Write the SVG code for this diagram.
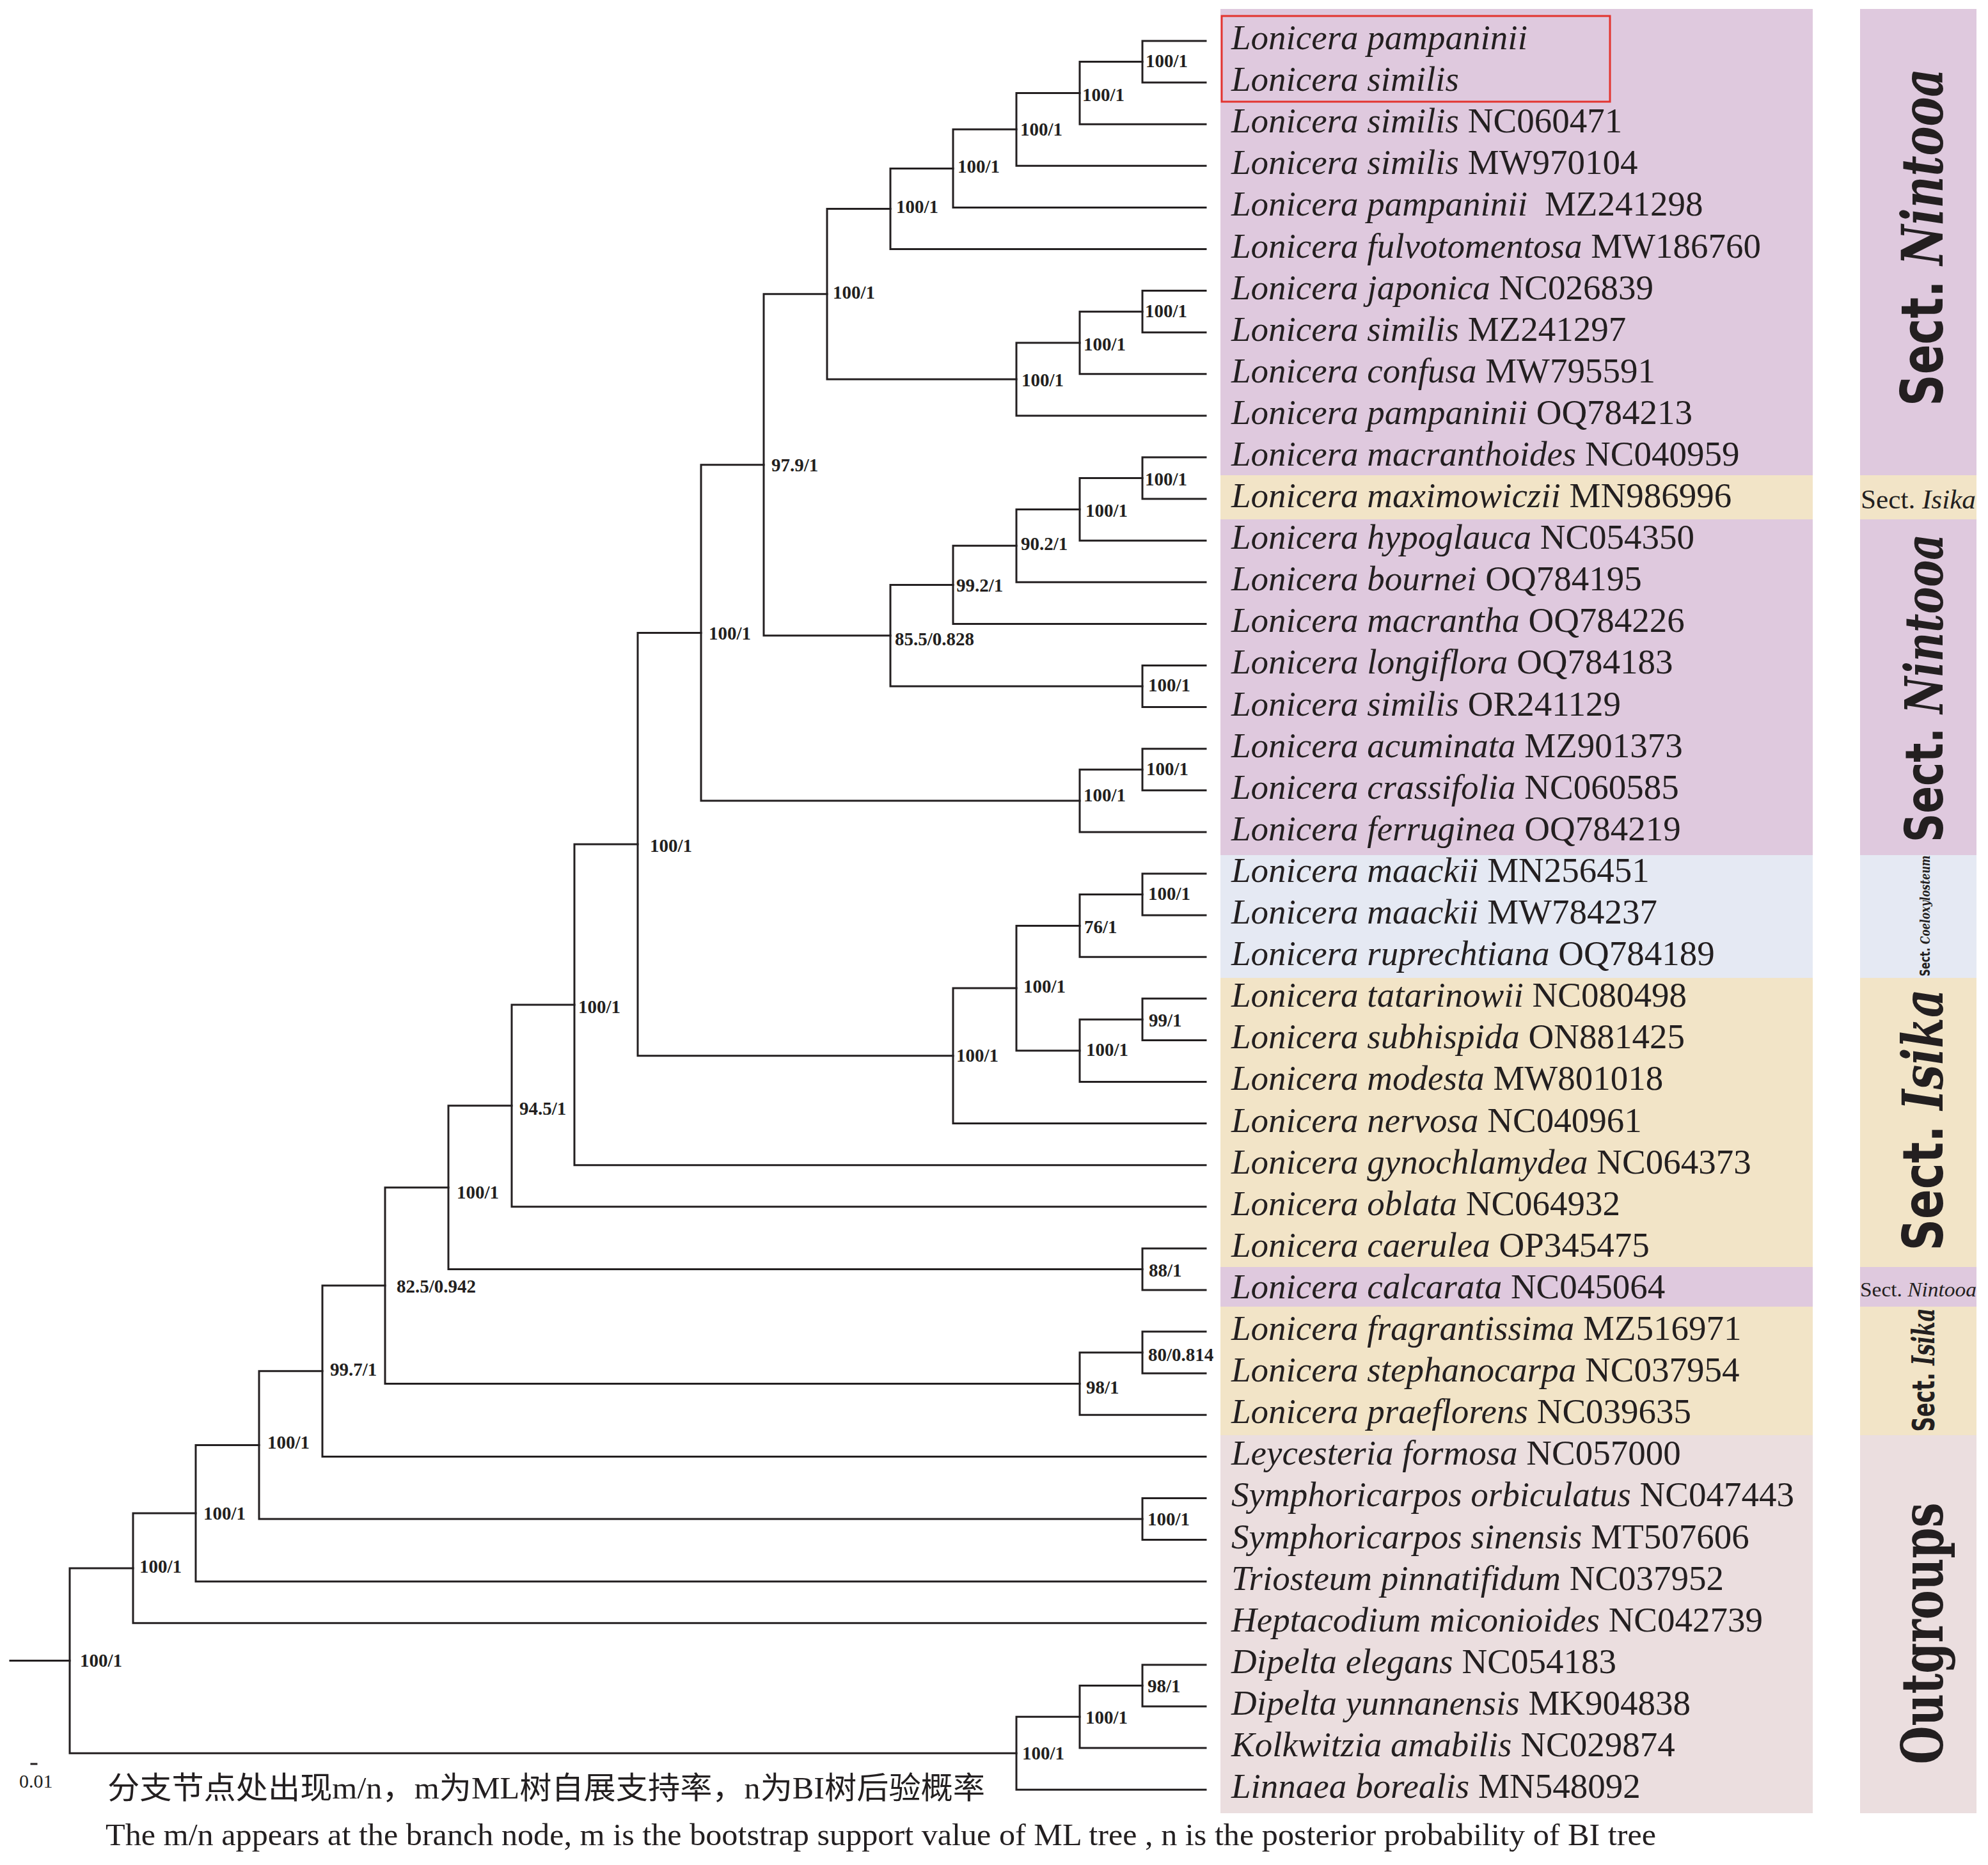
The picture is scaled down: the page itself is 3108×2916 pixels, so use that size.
<svg xmlns="http://www.w3.org/2000/svg" width="3108" height="2916" viewBox="0 0 3108 2916">
<style>
.br{fill:none;stroke:#231f20;stroke-width:3;stroke-linecap:square}
.sup{font-family:"Liberation Serif",serif;font-weight:bold;font-size:29px;fill:#231f20}
.tx{font-family:"Liberation Serif",serif;font-size:55px;fill:#231f20}
.i{font-style:italic}
.sec{font-family:"Liberation Serif",serif;fill:#231f20}
.big{font-weight:bold;fill:#231f20}
.sans{font-family:"DejaVu Sans",sans-serif}
.serif{font-family:"DejaVu Serif",serif}
</style>
<rect width="3108" height="2916" fill="#ffffff"/>
<g id="bands">
<rect x="1908" y="14" width="926" height="729" fill="#dfc9de"/>
<rect x="1908" y="743" width="926" height="69" fill="#f2e4c7"/>
<rect x="1908" y="812" width="926" height="525" fill="#dfc9de"/>
<rect x="1908" y="1337" width="926" height="192" fill="#e5e9f3"/>
<rect x="1908" y="1529" width="926" height="452" fill="#f2e4c7"/>
<rect x="1908" y="1981" width="926" height="62" fill="#dfc9de"/>
<rect x="1908" y="2043" width="926" height="201" fill="#f2e4c7"/>
<rect x="1908" y="2244" width="926" height="591" fill="#ebdedf"/>
<rect x="2908" y="14" width="182" height="729" fill="#dfc9de"/>
<rect x="2908" y="743" width="182" height="69" fill="#f2e4c7"/>
<rect x="2908" y="812" width="182" height="525" fill="#dfc9de"/>
<rect x="2908" y="1337" width="182" height="192" fill="#e5e9f3"/>
<rect x="2908" y="1529" width="182" height="452" fill="#f2e4c7"/>
<rect x="2908" y="1981" width="182" height="62" fill="#dfc9de"/>
<rect x="2908" y="2043" width="182" height="201" fill="#f2e4c7"/>
<rect x="2908" y="2244" width="182" height="591" fill="#ebdedf"/>
</g>
<g id="highlight">
<rect x="1910" y="25" width="607" height="134" fill="none" stroke="#e3342f" stroke-width="3"/>
</g>
<g id="connectors">
<path class="br" d="M1885,64 H1786 V129.1 H1885"/>
<path class="br" d="M1786,96.5 H1688 V194.2 H1885"/>
<path class="br" d="M1688,145.4 H1589 V259.3 H1885"/>
<path class="br" d="M1589,202.3 H1490 V324.4 H1885"/>
<path class="br" d="M1490,263.4 H1392 V389.5 H1885"/>
<path class="br" d="M1885,454.6 H1786 V519.7 H1885"/>
<path class="br" d="M1786,487.2 H1688 V584.8 H1885"/>
<path class="br" d="M1688,536 H1589 V649.9 H1885"/>
<path class="br" d="M1392,326.4 H1293 V593 H1589"/>
<path class="br" d="M1885,715 H1786 V780.1 H1885"/>
<path class="br" d="M1786,747.6 H1688 V845.2 H1885"/>
<path class="br" d="M1688,796.4 H1589 V910.3 H1885"/>
<path class="br" d="M1589,853.3 H1490 V975.4 H1885"/>
<path class="br" d="M1885,1040.5 H1786 V1105.6 H1885"/>
<path class="br" d="M1490,914.4 H1392 V1073 H1786"/>
<path class="br" d="M1293,459.7 H1194 V993.7 H1392"/>
<path class="br" d="M1885,1170.7 H1786 V1235.8 H1885"/>
<path class="br" d="M1786,1203.3 H1688 V1300.9 H1885"/>
<path class="br" d="M1194,726.7 H1096 V1252.1 H1688"/>
<path class="br" d="M1885,1366 H1786 V1431.1 H1885"/>
<path class="br" d="M1786,1398.6 H1688 V1496.2 H1885"/>
<path class="br" d="M1885,1561.3 H1786 V1626.4 H1885"/>
<path class="br" d="M1786,1593.9 H1688 V1691.5 H1885"/>
<path class="br" d="M1688,1447.4 H1589 V1642.7 H1688"/>
<path class="br" d="M1589,1545 H1490 V1756.6 H1885"/>
<path class="br" d="M1096,989.4 H997 V1650.8 H1490"/>
<path class="br" d="M997,1320.1 H898 V1821.7 H1885"/>
<path class="br" d="M898,1570.9 H800 V1886.8 H1885"/>
<path class="br" d="M1885,1951.9 H1786 V2017 H1885"/>
<path class="br" d="M800,1728.8 H701 V1984.5 H1786"/>
<path class="br" d="M1885,2082.1 H1786 V2147.2 H1885"/>
<path class="br" d="M1786,2114.7 H1688 V2212.3 H1885"/>
<path class="br" d="M701,1856.7 H602 V2163.5 H1688"/>
<path class="br" d="M602,2010.1 H504 V2277.4 H1885"/>
<path class="br" d="M1885,2342.5 H1786 V2407.6 H1885"/>
<path class="br" d="M504,2143.7 H405 V2375 H1786"/>
<path class="br" d="M405,2259.4 H306 V2472.7 H1885"/>
<path class="br" d="M306,2366 H208 V2537.8 H1885"/>
<path class="br" d="M1885,2602.9 H1786 V2668 H1885"/>
<path class="br" d="M1786,2635.5 H1688 V2733.1 H1885"/>
<path class="br" d="M1688,2684.3 H1589 V2798.2 H1885"/>
<path class="br" d="M208,2451.9 H109 V2741.2 H1589"/>
<path class="br" d="M16,2596.6 H109"/>
<path class="br" d="M49,2758 H57"/>
</g>
<g id="support-labels">
<g id="n-A"><text class="sup" x="1791" y="105">100/1</text></g>
<g id="n-B"><text class="sup" x="1692" y="158">100/1</text></g>
<g id="n-C"><text class="sup" x="1595" y="212">100/1</text></g>
<g id="n-D"><text class="sup" x="1497" y="270">100/1</text></g>
<g id="n-E"><text class="sup" x="1401" y="333">100/1</text></g>
<g id="n-F"><text class="sup" x="1302" y="467">100/1</text></g>
<g id="n-G"><text class="sup" x="1790" y="496">100/1</text></g>
<g id="n-H"><text class="sup" x="1694" y="548">100/1</text></g>
<g id="n-I"><text class="sup" x="1597" y="604">100/1</text></g>
<g id="n-K"><text class="sup" x="1206" y="737">97.9/1</text></g>
<g id="n-M"><text class="sup" x="1790" y="759">100/1</text></g>
<g id="n-N"><text class="sup" x="1697" y="808">100/1</text></g>
<g id="n-O"><text class="sup" x="1596" y="860">90.2/1</text></g>
<g id="n-P"><text class="sup" x="1495" y="925">99.2/1</text></g>
<g id="n-L"><text class="sup" x="1399" y="1009">85.5/0.828</text></g>
<g id="n-Q"><text class="sup" x="1795" y="1081">100/1</text></g>
<g id="n-T"><text class="sup" x="1108" y="1000">100/1</text></g>
<g id="n-R"><text class="sup" x="1792" y="1212">100/1</text></g>
<g id="n-S"><text class="sup" x="1694" y="1253">100/1</text></g>
<g id="n-U"><text class="sup" x="1795" y="1407">100/1</text></g>
<g id="n-V"><text class="sup" x="1695" y="1459">76/1</text></g>
<g id="n-W"><text class="sup" x="1796" y="1605">99/1</text></g>
<g id="n-X"><text class="sup" x="1698" y="1651">100/1</text></g>
<g id="n-Y"><text class="sup" x="1600" y="1552">100/1</text></g>
<g id="n-Z"><text class="sup" x="1495" y="1660">100/1</text></g>
<g id="n-AA"><text class="sup" x="1016" y="1332">100/1</text></g>
<g id="n-AB"><text class="sup" x="904" y="1584">100/1</text></g>
<g id="n-AC"><text class="sup" x="812" y="1743">94.5/1</text></g>
<g id="n-AD"><text class="sup" x="1796" y="1996">88/1</text></g>
<g id="n-AE"><text class="sup" x="714" y="1874">100/1</text></g>
<g id="n-AF"><text class="sup" x="1795" y="2128">80/0.814</text></g>
<g id="n-AG"><text class="sup" x="1698" y="2179">98/1</text></g>
<g id="n-AH"><text class="sup" x="620" y="2021">82.5/0.942</text></g>
<g id="n-AI"><text class="sup" x="516" y="2151">99.7/1</text></g>
<g id="n-AJ"><text class="sup" x="1794" y="2385">100/1</text></g>
<g id="n-AK"><text class="sup" x="418" y="2265">100/1</text></g>
<g id="n-AL"><text class="sup" x="318" y="2376">100/1</text></g>
<g id="n-AM"><text class="sup" x="218" y="2459">100/1</text></g>
<g id="n-root"><text class="sup" x="125" y="2606">100/1</text></g>
<g id="n-AN"><text class="sup" x="1794" y="2646">98/1</text></g>
<g id="n-AO"><text class="sup" x="1697" y="2695">100/1</text></g>
<g id="n-AP"><text class="sup" x="1598" y="2751">100/1</text></g>
</g>
<g id="taxa">
<g id="t01"><text class="tx" x="1925" y="77"><tspan class="i">Lonicera pampaninii</tspan></text></g>
<g id="t02"><text class="tx" x="1925" y="142"><tspan class="i">Lonicera similis</tspan></text></g>
<g id="t03"><text class="tx" x="1925" y="207"><tspan class="i">Lonicera similis</tspan> NC060471</text></g>
<g id="t04"><text class="tx" x="1925" y="272"><tspan class="i">Lonicera similis</tspan> MW970104</text></g>
<g id="t05"><text class="tx" x="1925" y="337"><tspan class="i">Lonicera pampaninii</tspan><tspan dx="27">MZ241298</tspan></text></g>
<g id="t06"><text class="tx" x="1925" y="403"><tspan class="i">Lonicera fulvotomentosa</tspan> MW186760</text></g>
<g id="t07"><text class="tx" x="1925" y="468"><tspan class="i">Lonicera japonica</tspan> NC026839</text></g>
<g id="t08"><text class="tx" x="1925" y="533"><tspan class="i">Lonicera similis</tspan> MZ241297</text></g>
<g id="t09"><text class="tx" x="1925" y="598"><tspan class="i">Lonicera confusa</tspan> MW795591</text></g>
<g id="t10"><text class="tx" x="1925" y="663"><tspan class="i">Lonicera pampaninii</tspan> OQ784213</text></g>
<g id="t11"><text class="tx" x="1925" y="728"><tspan class="i">Lonicera macranthoides</tspan> NC040959</text></g>
<g id="t12"><text class="tx" x="1925" y="793"><tspan class="i">Lonicera maximowiczii</tspan> MN986996</text></g>
<g id="t13"><text class="tx" x="1925" y="858"><tspan class="i">Lonicera hypoglauca</tspan> NC054350</text></g>
<g id="t14"><text class="tx" x="1925" y="923"><tspan class="i">Lonicera bournei</tspan> OQ784195</text></g>
<g id="t15"><text class="tx" x="1925" y="988"><tspan class="i">Lonicera macrantha</tspan> OQ784226</text></g>
<g id="t16"><text class="tx" x="1925" y="1053"><tspan class="i">Lonicera longiflora</tspan> OQ784183</text></g>
<g id="t17"><text class="tx" x="1925" y="1119"><tspan class="i">Lonicera similis</tspan> OR241129</text></g>
<g id="t18"><text class="tx" x="1925" y="1184"><tspan class="i">Lonicera acuminata</tspan> MZ901373</text></g>
<g id="t19"><text class="tx" x="1925" y="1249"><tspan class="i">Lonicera crassifolia</tspan> NC060585</text></g>
<g id="t20"><text class="tx" x="1925" y="1314"><tspan class="i">Lonicera ferruginea</tspan> OQ784219</text></g>
<g id="t21"><text class="tx" x="1925" y="1379"><tspan class="i">Lonicera maackii</tspan> MN256451</text></g>
<g id="t22"><text class="tx" x="1925" y="1444"><tspan class="i">Lonicera maackii</tspan> MW784237</text></g>
<g id="t23"><text class="tx" x="1925" y="1509"><tspan class="i">Lonicera ruprechtiana</tspan> OQ784189</text></g>
<g id="t24"><text class="tx" x="1925" y="1574"><tspan class="i">Lonicera tatarinowii</tspan> NC080498</text></g>
<g id="t25"><text class="tx" x="1925" y="1639"><tspan class="i">Lonicera subhispida</tspan> ON881425</text></g>
<g id="t26"><text class="tx" x="1925" y="1704"><tspan class="i">Lonicera modesta</tspan> MW801018</text></g>
<g id="t27"><text class="tx" x="1925" y="1770"><tspan class="i">Lonicera nervosa</tspan> NC040961</text></g>
<g id="t28"><text class="tx" x="1925" y="1835"><tspan class="i">Lonicera gynochlamydea</tspan> NC064373</text></g>
<g id="t29"><text class="tx" x="1925" y="1900"><tspan class="i">Lonicera oblata</tspan> NC064932</text></g>
<g id="t30"><text class="tx" x="1925" y="1965"><tspan class="i">Lonicera caerulea</tspan> OP345475</text></g>
<g id="t31"><text class="tx" x="1925" y="2030"><tspan class="i">Lonicera calcarata</tspan> NC045064</text></g>
<g id="t32"><text class="tx" x="1925" y="2095"><tspan class="i">Lonicera fragrantissima</tspan> MZ516971</text></g>
<g id="t33"><text class="tx" x="1925" y="2160"><tspan class="i">Lonicera stephanocarpa</tspan> NC037954</text></g>
<g id="t34"><text class="tx" x="1925" y="2225"><tspan class="i">Lonicera praeflorens</tspan> NC039635</text></g>
<g id="t35"><text class="tx" x="1925" y="2290"><tspan class="i">Leycesteria formosa</tspan> NC057000</text></g>
<g id="t36"><text class="tx" x="1925" y="2355"><tspan class="i">Symphoricarpos orbiculatus</tspan> NC047443</text></g>
<g id="t37"><text class="tx" x="1925" y="2421"><tspan class="i">Symphoricarpos sinensis</tspan> MT507606</text></g>
<g id="t38"><text class="tx" x="1925" y="2486"><tspan class="i">Triosteum pinnatifidum</tspan> NC037952</text></g>
<g id="t39"><text class="tx" x="1925" y="2551"><tspan class="i">Heptacodium miconioides</tspan> NC042739</text></g>
<g id="t40"><text class="tx" x="1925" y="2616"><tspan class="i">Dipelta elegans</tspan> NC054183</text></g>
<g id="t41"><text class="tx" x="1925" y="2681"><tspan class="i">Dipelta yunnanensis</tspan> MK904838</text></g>
<g id="t42"><text class="tx" x="1925" y="2746"><tspan class="i">Kolkwitzia amabilis</tspan> NC029874</text></g>
<g id="t43"><text class="tx" x="1925" y="2811"><tspan class="i">Linnaea borealis</tspan> MN548092</text></g>
</g>
<g id="sections">
<g id="sec-nintooa-1"><text class="big" transform="translate(3037,371) rotate(-90)" text-anchor="middle" font-size="90" textLength="528" lengthAdjust="spacingAndGlyphs"><tspan class="sans">Sect. </tspan><tspan class="serif i">Nintooa</tspan></text></g>
<g id="sec-isika-1"><text class="sec" x="2909" y="795" font-size="42" textLength="180" lengthAdjust="spacingAndGlyphs">Sect. <tspan class="i">Isika</tspan></text></g>
<g id="sec-nintooa-2"><text class="big" transform="translate(3037,1076) rotate(-90)" text-anchor="middle" font-size="82" textLength="482" lengthAdjust="spacingAndGlyphs"><tspan class="sans">Sect. </tspan><tspan class="serif i">Nintooa</tspan></text></g>
<g id="sec-coeloxylosteum"><text class="big" transform="translate(3017,1432) rotate(-90)" text-anchor="middle" font-size="21" textLength="189" lengthAdjust="spacingAndGlyphs"><tspan class="sans">Sect. </tspan><tspan class="serif i">Coeloxylosteum</tspan></text></g>
<g id="sec-isika-2"><text class="big" transform="translate(3037,1751) rotate(-90)" text-anchor="middle" font-size="88" textLength="409" lengthAdjust="spacingAndGlyphs"><tspan class="sans">Sect. </tspan><tspan class="serif i">Isika</tspan></text></g>
<g id="sec-nintooa-3"><text class="sec" x="2908" y="2027" font-size="32" textLength="182" lengthAdjust="spacingAndGlyphs">Sect. <tspan class="i">Nintooa</tspan></text></g>
<g id="sec-isika-3"><text class="big" transform="translate(3024,2142) rotate(-90)" text-anchor="middle" font-size="48" textLength="193" lengthAdjust="spacingAndGlyphs"><tspan class="sans">Sect. </tspan><tspan class="serif i">Isika</tspan></text></g>
<g id="sec-outgroups"><text class="big serif" transform="translate(3037,2554) rotate(-90)" text-anchor="middle" font-size="90" textLength="409" lengthAdjust="spacingAndGlyphs">Outgroups</text></g>
</g>
<g id="scale">
<text class="sec" x="30" y="2795" font-size="30">0.01</text>
</g>
<g id="captions">
<text x="168" y="2812" font-family="'Liberation Serif','Noto Sans CJK SC',serif" font-size="48" fill="#231f20" textLength="1372" lengthAdjust="spacingAndGlyphs">分支节点处出现m/n，m为ML树自展支持率，n为BI树后验概率</text>
<text x="165" y="2885" font-family="'Liberation Serif',serif" font-size="48" fill="#231f20" textLength="2424" lengthAdjust="spacingAndGlyphs">The m/n appears at the branch node, m is the bootstrap support value of ML tree , n is the posterior probability of BI tree</text>
</g>
</svg>
